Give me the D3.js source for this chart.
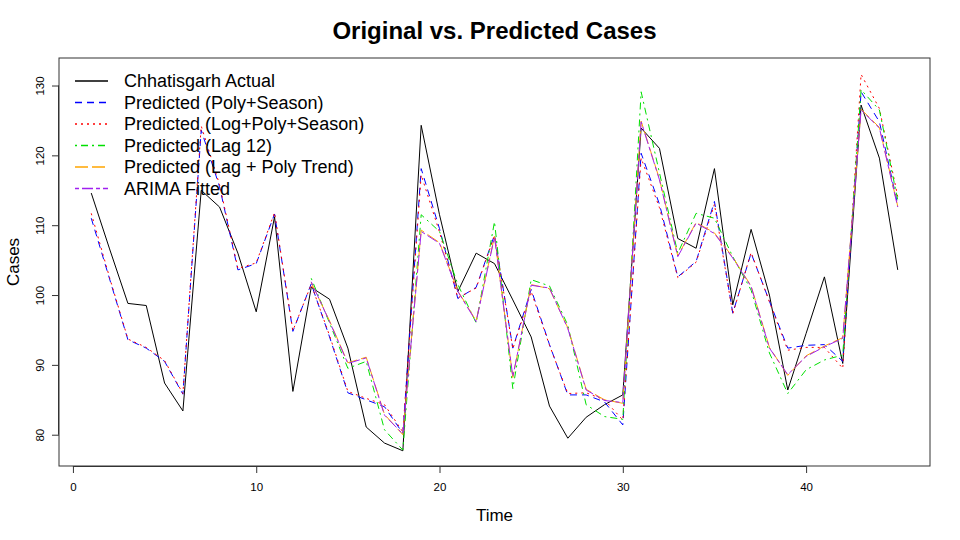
<!DOCTYPE html>
<html>
<head>
<meta charset="utf-8">
<script src="https://cdn.jsdelivr.net/npm/d3@7"></script>
<style>
  body { margin: 0; background: #fff; }
  text { font-family: "Liberation Sans", Arial, sans-serif; }
</style>
</head>
<body>
<svg id="chart" width="960" height="540"></svg>
<script>
const time = d3.range(1, 46)

const actual = [114.6, 106.6, 98.8, 98.5, 87.4, 83.4, 115.0, 112.6, 106.0, 97.6, 111.2, 86.2,
  101.1, 99.4, 92.4, 81.1, 78.8, 77.7, 124.3, 111.5, 100.5, 106.0, 104.5, 99.3, 94.0, 84.1,
  79.5, 82.5, 84.3, 85.7, 123.9, 121.0, 108.1, 106.7, 118.1, 98.6, 109.4, 100.0, 86.4, 94.5,
  102.6, 90.2, 127.2, 119.6, 103.6]

const polySeason = [111.0, 102.3, 93.6, 92.4, 90.5, 85.8, 123.6, 115.5, 103.6, 104.5, 111.6, 94.8,
  101.6, 94.0, 86.0, 85.0, 84.0, 80.2, 118.1, 109.5, 99.5, 101.1, 108.6, 92.4, 100.8, 92.9,
  85.7, 85.7, 84.7, 81.4, 120.3, 113.0, 102.6, 104.8, 113.4, 97.4, 106.0, 99.1, 92.4, 92.8,
  92.9, 90.5, 129.1, 124.8, 112.9]

const logPolySeason = [111.7, 102.5, 93.7, 92.5, 90.6, 85.9, 124.2, 115.8, 103.8, 104.6, 111.8, 94.9,
  101.5, 94.2, 86.2, 85.2, 84.3, 80.4, 117.2, 109.0, 99.6, 101.0, 108.5, 92.3, 100.5, 92.8,
  85.9, 86.0, 85.0, 82.1, 119.6, 112.5, 102.5, 104.7, 113.0, 97.3, 106.1, 99.0, 92.1, 92.5,
  92.5, 89.5, 131.6, 126.7, 114.1]

const lag12 = [null, null, null, null, null, null, null, null, null, null, null, null,
  102.4, 96.0, 89.5, 90.5, 80.7, 77.8, 111.5, 109.1, 101.5, 96.0, 110.5, 86.6, 102.2, 101.3,
  95.7, 84.3, 82.6, 82.2, 129.1, 117.5, 106.0, 111.7, 111.0, 105.5, 100.7, 91.7, 85.9, 89.3,
  90.7, 91.4, 129.4, 126.5, 113.6]

const lagPolyTrend = [null, null, null, null, null, null, null, null, null, null, null, null,
  101.8, 96.3, 90.3, 91.1, 82.9, 80.0, 109.3, 107.5, 100.6, 96.3, 108.4, 88.2, 101.5, 100.9,
  95.3, 86.5, 85.0, 84.5, 124.9, 116.6, 105.6, 110.4, 108.9, 105.4, 101.3, 92.5, 88.5, 91.3,
  92.7, 93.9, 126.6, 124.0, 112.7]

const arimaFitted = [null, null, null, null, null, null, null, null, null, null, null, null,
  101.9, 96.2, 90.2, 91.0, 82.8, 80.1, 109.1, 107.4, 100.5, 96.2, 108.3, 88.3, 101.4, 101.0,
  95.2, 86.4, 84.9, 84.6, 124.8, 116.5, 105.5, 110.3, 108.8, 105.3, 101.2, 92.4, 88.6, 91.2,
  92.6, 93.8, 126.5, 123.9, 112.6]

const seriesNames = ['Chhatisgarh Actual', 'Predicted (Poly+Season)', 'Predicted (Log+Poly+Season)',
  'Predicted (Lag 12)', 'Predicted (Lag + Poly Trend)', 'ARIMA Fitted']
const seriesColors = ['#000000', '#0000ff', '#ff0000', '#00e000', '#ffa500', '#a020f0']
const seriesDash = [null, '7,5', '2,4', '2,4,7,4', '13,4', '4,3,11,3']

const xTicks = [0, 10, 20, 30, 40]
const yTicks = [80, 90, 100, 110, 120, 130]

const svg = d3.select('#chart')
svg.append('rect').attr('width', 960).attr('height', 540).attr('fill', '#fff')

const mLeft = 59, mRight = 930, mTop = 58, mBottom = 466

// R style 4% padding around the data range
const x = d3.scaleLinear().domain([-0.76, 46.76]).range([mLeft, mRight])
const y = d3.scaleLinear().domain([75.52, 133.94]).range([mBottom, mTop])

const allSeries = [actual, polySeason, logPolySeason, lag12, lagPolyTrend, arimaFitted]

const line = d3.line()
  .defined(d => d.v != null)
  .x(d => x(d.t))
  .y(d => y(d.v))

const clip = svg.append('clipPath').attr('id', 'plotclip')
clip.append('rect').attr('x', mLeft).attr('y', mTop).attr('width', mRight - mLeft).attr('height', mBottom - mTop)

const plot = svg.append('g').attr('clip-path', 'url(#plotclip)')
allSeries.forEach((vals, i) => {
  plot.append('path')
    .datum(vals.map((v, j) => ({ t: time[j], v: v })))
    .attr('fill', 'none')
    .attr('stroke', seriesColors[i])
    .attr('stroke-width', 1)
    .attr('stroke-dasharray', seriesDash[i])
    .attr('d', line)
})

// box
svg.append('rect')
  .attr('x', mLeft).attr('y', mTop)
  .attr('width', mRight - mLeft).attr('height', mBottom - mTop)
  .attr('fill', 'none').attr('stroke', '#333').attr('stroke-width', 1)

// x axis
const xAxis = svg.append('g').attr('transform', `translate(0,${mBottom})`)
  .call(d3.axisBottom(x).tickValues(xTicks).tickSize(7).tickPadding(10).tickFormat(d3.format('d')))
xAxis.select('.domain').attr('d', `M${x(0)},0.5H${x(40)}`).attr('stroke', '#333')
xAxis.selectAll('.tick line').attr('stroke', '#333')
xAxis.selectAll('.tick text').attr('font-size', 11.5).attr('fill', '#000')
  .style('font-family', '"Liberation Sans", Arial, sans-serif')

// y axis
const yAxis = svg.append('g').attr('transform', `translate(${mLeft},0)`)
  .call(d3.axisLeft(y).tickValues(yTicks).tickSize(7).tickFormat(d3.format('d')))
yAxis.select('.domain').attr('d', `M-0.5,${y(80)}V${y(130)}`).attr('stroke', '#333')
yAxis.selectAll('.tick line').attr('stroke', '#333')
yAxis.selectAll('.tick text')
  .attr('x', null).attr('dy', null)
  .attr('text-anchor', 'middle')
  .attr('transform', 'translate(-15,0) rotate(-90)')
  .attr('font-size', 11.5).attr('fill', '#000')
  .style('font-family', '"Liberation Sans", Arial, sans-serif')

// titles
svg.append('text')
  .attr('x', (mLeft + mRight) / 2).attr('y', 39)
  .attr('text-anchor', 'middle')
  .attr('font-size', 24).attr('font-weight', 'bold')
  .text('Original vs. Predicted Cases')

svg.append('text')
  .attr('x', (mLeft + mRight) / 2).attr('y', 521)
  .attr('text-anchor', 'middle')
  .attr('font-size', 17)
  .text('Time')

svg.append('text')
  .attr('transform', `translate(13,${(mTop + mBottom) / 2}) rotate(-90)`)
  .attr('text-anchor', 'middle')
  .attr('dy', '0.35em')
  .attr('font-size', 17)
  .text('Cases')

// legend
const legend = svg.append('g')
seriesNames.forEach((name, i) => {
  const ly = 81 + i * 21.5
  legend.append('line')
    .attr('x1', 75).attr('x2', 108)
    .attr('y1', ly).attr('y2', ly)
    .attr('stroke', seriesColors[i])
    .attr('stroke-width', 1.5)
    .attr('stroke-dasharray', seriesDash[i])
  legend.append('text')
    .attr('x', 124).attr('y', ly)
    .attr('dy', '0.35em')
    .attr('font-size', 18)
    .text(name)
})
</script>
</body>
</html>
